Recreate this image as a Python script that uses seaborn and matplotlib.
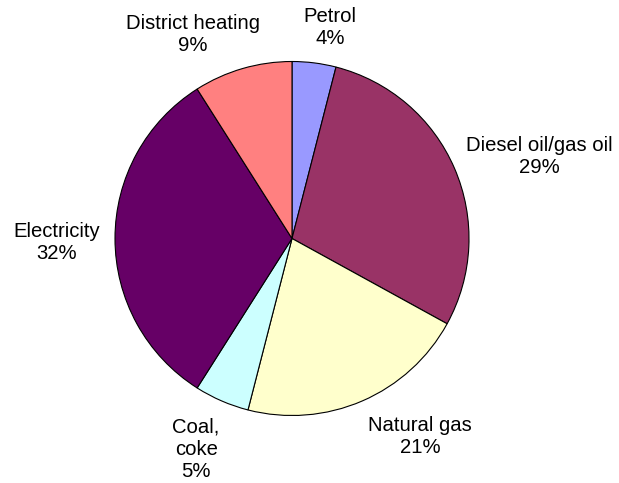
import matplotlib
matplotlib.use("Agg")
import matplotlib.pyplot as plt
import seaborn as sns

# Energy use by source (share, %), clockwise from 12 o'clock
categories = ["Petrol", "Diesel oil/gas oil", "Natural gas", "Coal,\ncoke",
              "Electricity", "District heating"]
shares = [4, 29, 21, 5, 32, 9]
colors = ["#9999FF", "#993366", "#FFFFCC", "#CCFFFF", "#660066", "#FF8080"]

# label anchor points in pie-radius units
label_pos = [(0.215, 1.19), (1.40, 0.466), (0.723, -1.12),
             (-0.542, -1.19), (-1.328, -0.02), (-0.56, 1.155)]

sns.set_theme(style="white")
plt.rcParams["font.family"] = ["Liberation Sans", "DejaVu Sans"]

W, H = 619, 483
fig = plt.figure(figsize=(W / 100, H / 100), dpi=100)
cx, cy, r = 292, 238.5, 177
ax = fig.add_axes([(cx - r) / W, (H - cy - r) / H, 2 * r / W, 2 * r / H])

labels = [f"{c}\n{v}%" for c, v in zip(categories, shares)]
wedges, texts = ax.pie(
    shares, labels=labels, colors=colors, startangle=90, counterclock=False,
    radius=1, wedgeprops=dict(edgecolor="black", linewidth=0.8),
    textprops=dict(fontsize=14.6, color="black"),
)
for t, p in zip(texts, label_pos):
    t.set_position(p)
    t.set_ha("center")
    t.set_va("center")
    t.set_multialignment("center")
    t.set_clip_on(False)

ax.set_xlim(-1, 1)
ax.set_ylim(-1, 1)
ax.set_aspect("equal")
ax.axis("off")

fig.savefig("out.png", dpi=100, facecolor="white")
